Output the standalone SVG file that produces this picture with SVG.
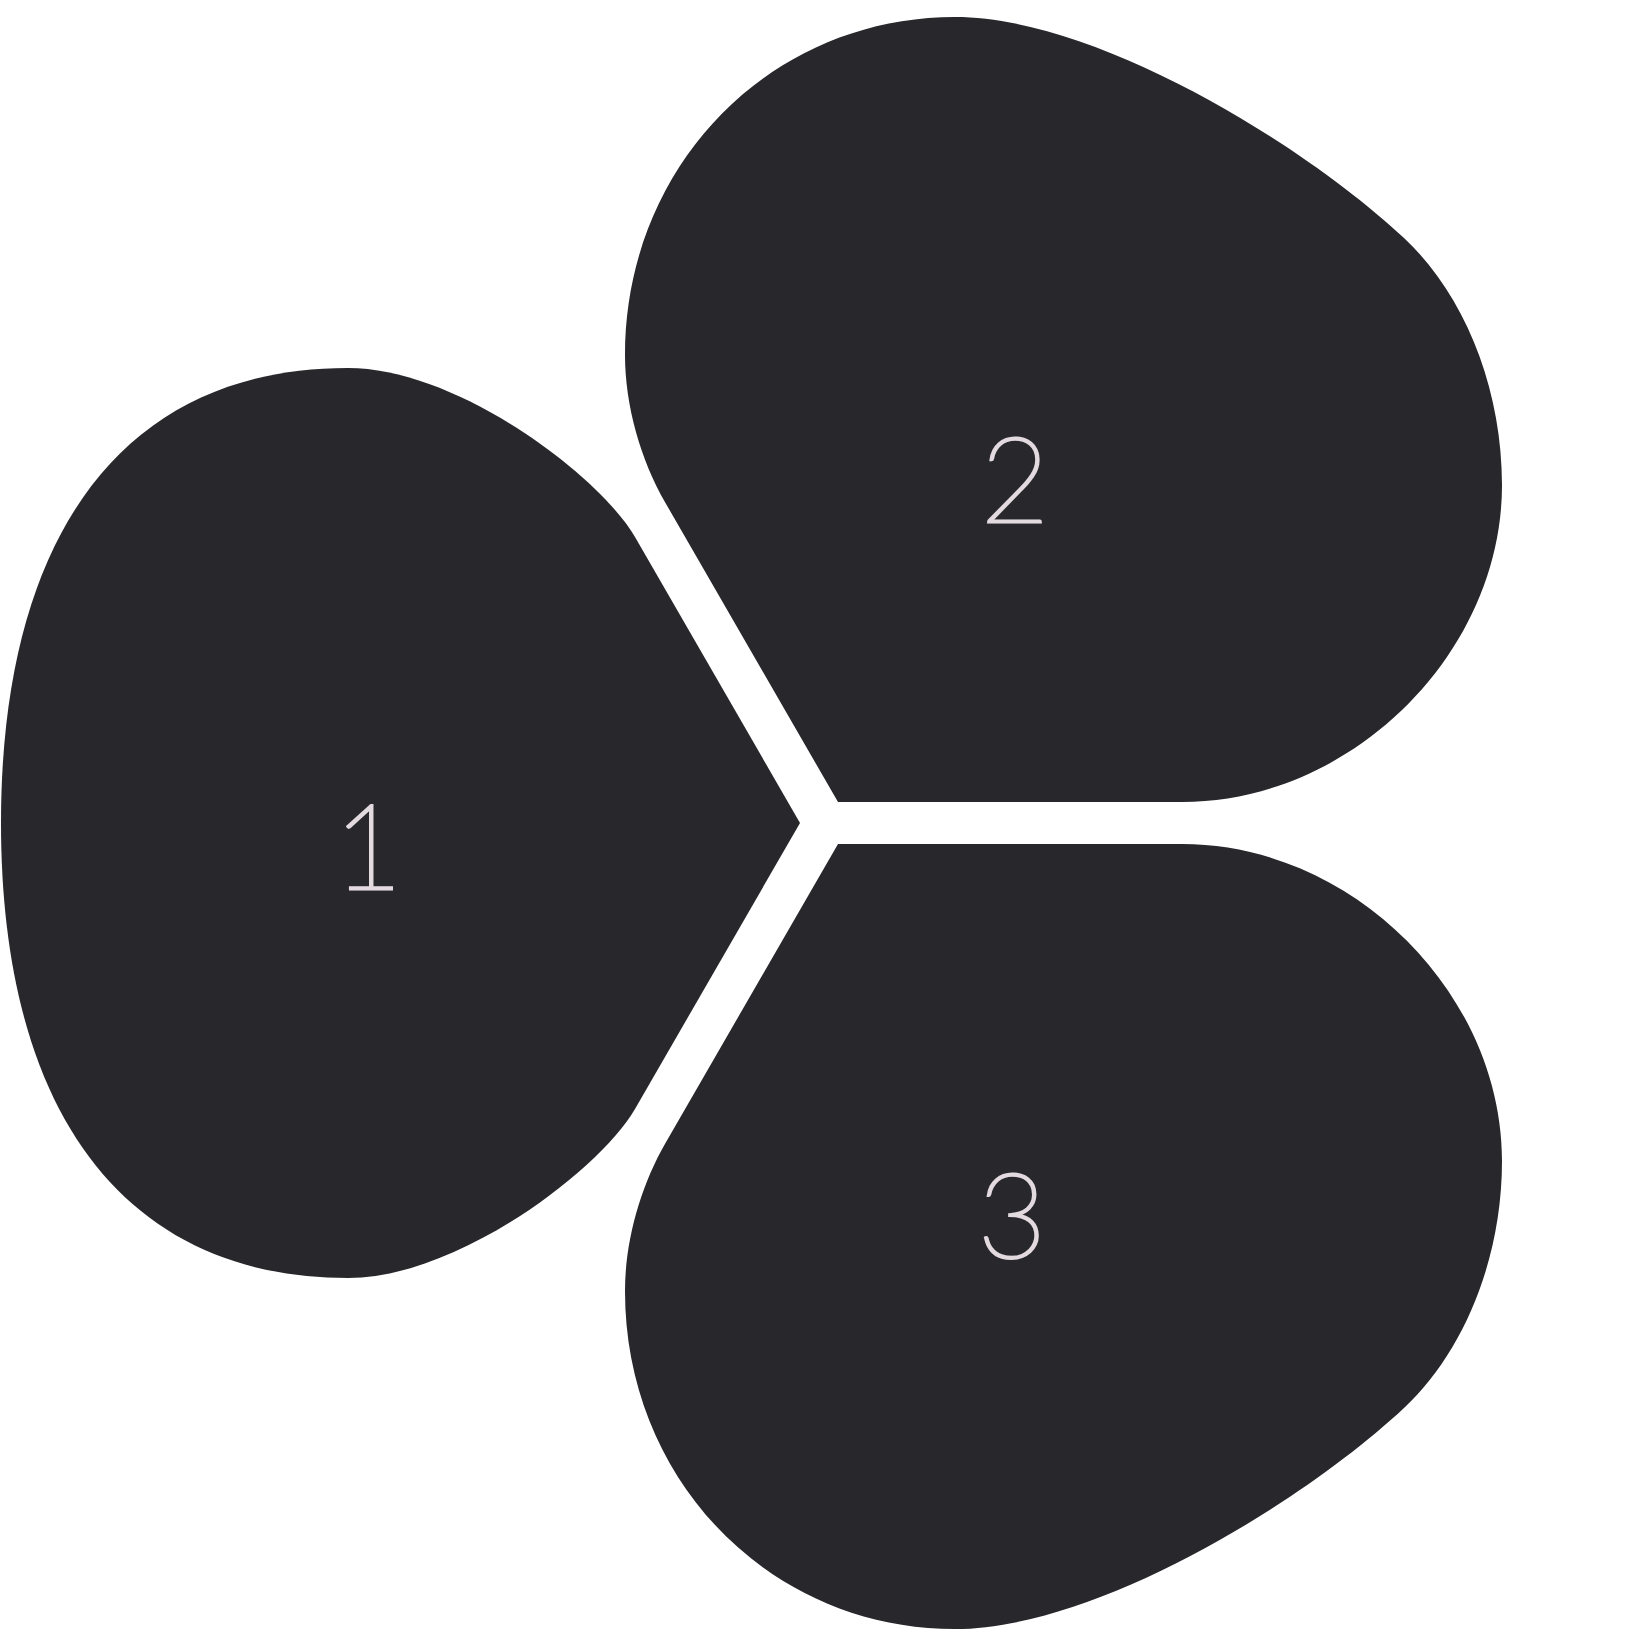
<svg xmlns="http://www.w3.org/2000/svg" width="1650" height="1650" viewBox="0 0 1650 1650">
  <style>
    .petal { fill: #28272c; }
    .num { fill: #e2dadf; stroke: #e2dadf; stroke-width: 3; stroke-linejoin: miter; font-family: Lato, Inter, "Liberation Sans", sans-serif; font-weight: 100; font-size: 118px; text-anchor: middle; }
  </style>
  <rect width="1650" height="1650" fill="#ffffff"/>
  <defs>
    <path id="petalTop" d="M 838,802 L 1182,802 C 1352,802 1502,653 1502,485 C 1502,385 1462.5,292.6 1404,238 C 1301.7,142.5 1095,17 955,17 C 770,17 625,166 625,355 C 625,405 640.5,459.7 665.5,503 Z"/>
  </defs>
  <g id="node-1">
    <path class="petal" d="M 800,823 L 635,537 C 600,476.4 458,368 348,368 C 125.9,368 1,531.8 1,823 C 1,1114.2 125.9,1278 348,1278 C 458,1278 600,1169.6 635,1109 Z"/>
    <text class="num" x="368" y="889">1</text>
  </g>
  <g id="node-2">
    <use href="#petalTop" class="petal"/>
    <text class="num" x="1015" y="522">2</text>
  </g>
  <g id="node-3">
    <use href="#petalTop" class="petal" transform="matrix(1,0,0,-1,0,1646)"/>
    <text class="num" x="1012" y="1258">3</text>
  </g>
  <g id="connectors"></g>
</svg>
